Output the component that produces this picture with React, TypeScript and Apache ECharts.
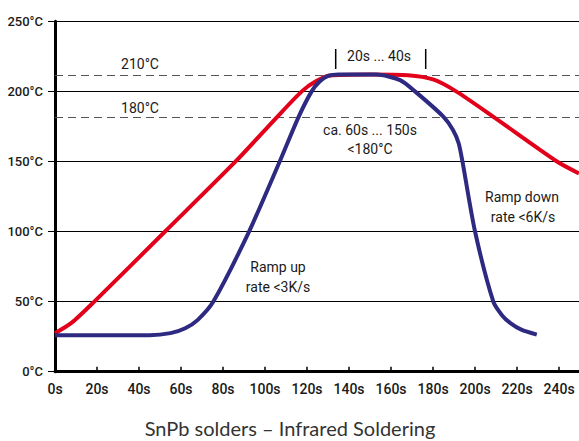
import React, { useEffect, useRef } from "react";
import * as echarts from "echarts";

// Reflow profile (red) – time in s, temperature in °C
const redTime = [0, 8, 18.7, 52.4, 86, 105.6, 117.5, 124, 131, 150, 168, 180, 191, 208.6, 239, 249.5];
const redTemp = [27.5, 35, 50, 100, 150, 181.5, 200, 207, 211.3, 212, 211.5, 208.5, 200, 182, 150, 141.5];

// Component profile (blue)
const blueTime = [0, 45, 55, 62, 68, 75.4, 92.4, 107, 115.9, 122.2, 126, 130, 135, 153, 164.3, 171.4, 184.9, 189.5, 192.2, 194, 200, 208.7, 213, 217, 222, 229.4];
const blueTemp = [26, 26, 27.5, 31, 37, 50, 100, 150, 181.5, 200, 207, 211, 212, 212, 208, 200, 182, 172.5, 163, 150, 100, 50, 40, 34.5, 30, 26.5];

const xTicks = [0, 20, 40, 60, 80, 100, 120, 140, 160, 180, 200, 220, 240];
const yTicks = [0, 50, 100, 150, 200, 250];
const refLevels = [211.5, 181.5];

const zip = (a: number[], b: number[]) => a.map((v, i) => [v, b[i]]);

export default function App() {
  const ref = useRef<HTMLDivElement>(null);
  useEffect(() => {
    if (!ref.current) return;
    const chart = echarts.init(ref.current, undefined, { renderer: "svg" });
    const font = "Roboto";
    const txt = (text: string, x: number, y: number, size = 14, extra: any = {}) => ({
      type: "text",
      x,
      y,
      style: {
        text,
        fill: "#1a1a1a",
        font: `${size}px ${font}`,
        textAlign: "center",
        textVerticalAlign: "middle",
        ...extra,
      },
    });
    chart.setOption({
      animation: false,
      backgroundColor: "#fff",
      grid: { left: 55, right: 0, top: 21.3, bottom: 69.3, containLabel: false },
      xAxis: {
        type: "value",
        min: 0,
        max: 249.5,
        interval: 20,
        axisLine: { show: true, lineStyle: { color: "#000", width: 3 } },
        axisTick: { show: true, inside: true, length: 5, lineStyle: { color: "#000", width: 1.5 } },
        splitLine: { show: false },
        axisLabel: {
          margin: 10,
          color: "#1a1a1a",
          fontFamily: font,
          fontSize: 14,
          fontWeight: 500,
          showMaxLabel: false,
          formatter: (v: number) => (xTicks.includes(v) ? `${v}s` : ""),
        },
      },
      yAxis: {
        type: "value",
        min: yTicks[0],
        max: yTicks[yTicks.length - 1],
        interval: 50,
        axisLine: { show: true, lineStyle: { color: "#000", width: 3 } },
        axisTick: { show: true, inside: false, length: 7, lineStyle: { color: "#000", width: 1 } },
        splitLine: { show: true, lineStyle: { color: "#000", width: 1 } },
        axisLabel: {
          margin: 12,
          color: "#1a1a1a",
          fontFamily: font,
          fontSize: 13,
          fontWeight: 500,
          padding: [0, 0, 6, 0],
          formatter: (v: number) => `${v}°C`,
        },
      },
      series: [
        {
          type: "line",
          data: zip(redTime, redTemp),
          smooth: 0.25,
          showSymbol: false,
          lineStyle: { color: "#e3001b", width: 4 },
          z: 3,
          markLine: {
            silent: true,
            symbol: "none",
            label: { show: false },
            lineStyle: { color: "#555", type: [8, 5], width: 1 },
            data: refLevels.map((v) => ({ yAxis: v })),
            z: 1,
          },
        },
        {
          type: "line",
          data: zip(blueTime, blueTemp),
          smooth: 0.25,
          showSymbol: false,
          lineStyle: { color: "#2e2a82", width: 4 },
          z: 4,
        },
      ],
      graphic: [
        txt("210°C", 140, 64),
        txt("180°C", 140, 108),
        txt("20s ... 40s", 379, 56),
        txt("ca. 60s ... 150s", 370, 130),
        txt("<180°C", 370, 149),
        txt("Ramp up", 278, 267),
        txt("rate <3K/s", 278, 287),
        txt("Ramp down", 522, 197),
        txt("rate <6K/s", 523, 217),
        {
          type: "line",
          shape: { x1: 335.7, y1: 49, x2: 335.7, y2: 69 },
          style: { stroke: "#000", lineWidth: 1.5 },
        },
        {
          type: "line",
          shape: { x1: 425.7, y1: 49, x2: 425.7, y2: 69 },
          style: { stroke: "#000", lineWidth: 1.5 },
        },
        {
          type: "text",
          x: 290,
          y: 428,
          style: {
            text: "SnPb solders – Infrared Soldering",
            fill: "#333",
            font: "20px Lato",
            textAlign: "center",
            textVerticalAlign: "middle",
          },
        },
      ],
    });
    return () => chart.dispose();
  }, []);
  return (
    <div
      ref={ref}
      style={{ position: "absolute", left: 0, top: 0, width: 579, height: 441 }}
    />
  );
}
